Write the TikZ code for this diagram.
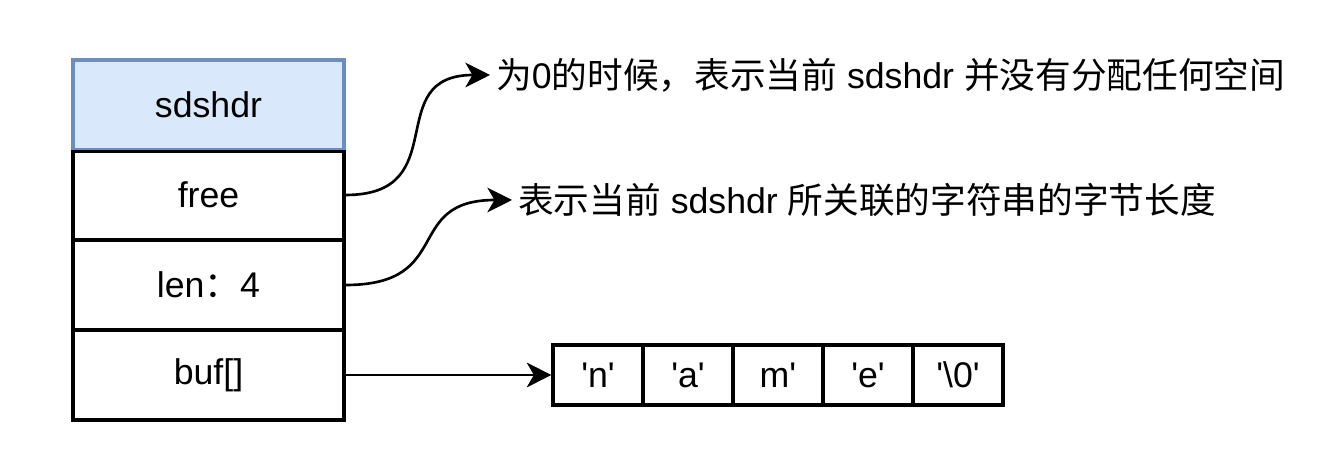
\documentclass[tikz,border=0pt]{standalone}
\usepackage{fontspec}
\setmainfont{Liberation Sans}
\newfontfamily\cjk{Noto Sans CJK SC}
\usetikzlibrary{arrows.meta}
\definecolor{headfill}{HTML}{DAE8FC}
\definecolor{headline}{HTML}{6C8EBF}
\tikzset{
  field/.style={draw, line width=1.8pt, minimum width=5.42cm, minimum height=1.8cm, inner sep=0pt},
  cell/.style={draw, line width=1.8pt, minimum width=1.8cm, minimum height=1.2cm, inner sep=0pt},
  link/.style={line width=1.5pt, -{Stealth[length=14pt, width=14pt, inset=4pt]}},
}
\newcommand{\q}{\textquotesingle}
\begin{document}
\begin{tikzpicture}[font=\fontsize{20.3}{24}\selectfont]
            \useasboundingbox (0,0) rectangle (26.82,9.1);
            % the struct fields
            \node[field] (buf) at (4.17,1.6) {buf[]};
            \node[field] (len) at (4.17,3.4) {len{\cjk ：}4};
            \node[field] (free) at (4.17,5.2) {free};
            \node[field, fill=headfill, draw=headline] (head) at (4.17,7.0) {sdshdr};
            \draw[line width=1.8pt] (head.south west) -- (head.south east);

            % the characters of buf
            \foreach \i/\c in {0/\q n\q,1/\q a\q,2/m\q,3/\q e\q,4/\q\textbackslash 0\q} {
                    \node[cell] (c\i) at ({11.96+1.8*\i},1.6) {\c};
                }

            % notes
            \node[anchor=west] (freenote) at (9.8,7.6) {{\cjk 为}0{\cjk 的时候，表示当前} sdshdr {\cjk 并没有分配任何空间}};
            \node[anchor=west] (lennote) at (10.24,5.1) {{\cjk 表示当前} sdshdr {\cjk 所关联的字符串的字节长度}};

            \draw[link] (free.east) .. controls +(2.2,0) and +(-2.2,0) .. (freenote.west);
            \draw[link] (len.east) .. controls +(2.2,0) and +(-2.2,0) .. (lennote.west);
            \draw[link] (buf.east) -- (c0.west);
        \end{tikzpicture}
\end{document}
